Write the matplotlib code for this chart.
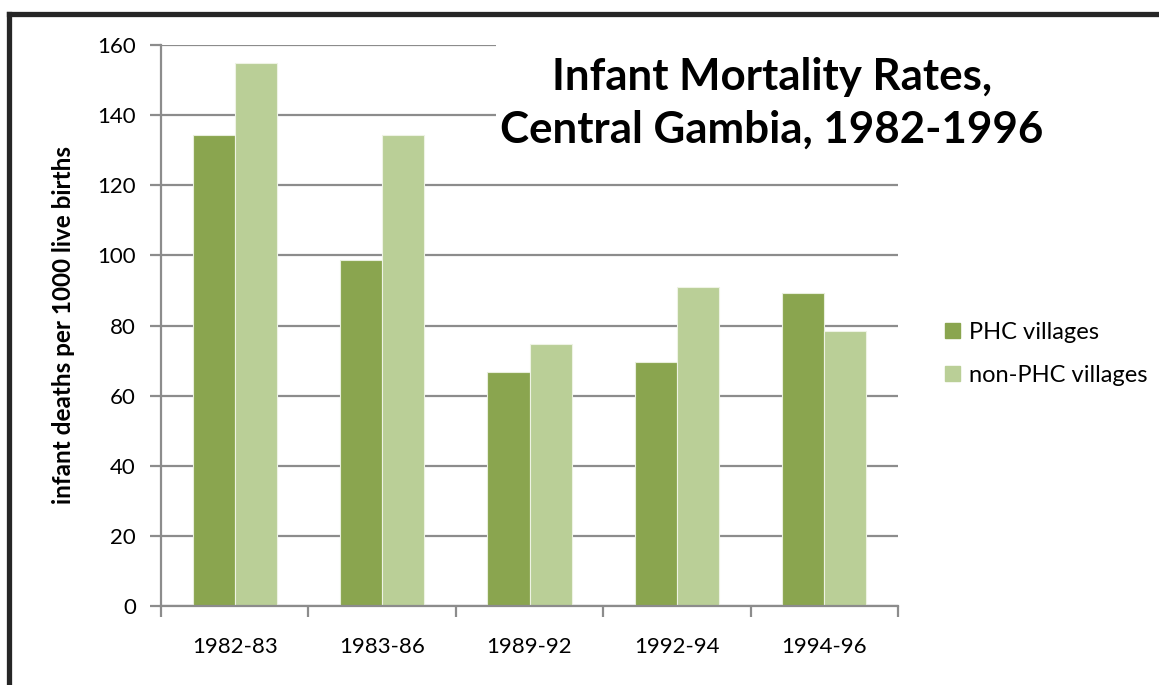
import numpy as np
import matplotlib
matplotlib.use("Agg")
import matplotlib.pyplot as plt
from matplotlib.patches import Rectangle
from matplotlib.lines import Line2D

periods = ["1982-83", "1983-86", "1989-92", "1992-94", "1994-96"]
phc = [134.3, 98.6, 66.8, 69.5, 89.4]
non_phc = [154.9, 134.3, 74.6, 91.1, 78.5]
series_names = ["PHC villages", "non-PHC villages"]

plt.rcParams['font.family'] = ['Lato', 'DejaVu Sans']

W, H = 1159, 685
fig = plt.figure(figsize=(W / 100, H / 100), dpi=100)
fig.patch.set_facecolor("white")

ax = fig.add_axes([161 / W, 1 - 606 / H, (898 - 161) / W, (606 - 45) / H])

grey = "#8c8c8c"
dark = "#8aa54f"
light = "#bacf97"

x = np.arange(len(periods))
bw = 0.285
ax.bar(x - bw / 2, phc, bw, color=dark, edgecolor="#e8eedc", linewidth=0.8,
       label=series_names[0], zorder=2)
ax.bar(x + bw / 2, non_phc, bw, color=light, edgecolor="#eef3e4", linewidth=0.8,
       label=series_names[1], zorder=2)

ax.set_xlim(-0.5, len(periods) - 0.5)
ax.set_ylim(0, 160)
ax.set_yticks(np.arange(0, 161, 20))
ax.yaxis.grid(True, color=grey, linewidth=1.6, zorder=0)
ax.set_axisbelow(True)

for s in ["top", "right"]:
    ax.spines[s].set_visible(False)
for s in ["left", "bottom"]:
    ax.spines[s].set_color(grey)
    ax.spines[s].set_linewidth(1.6)

ax.set_xticks(x)
ax.set_xticklabels(periods)
ax.set_xticks(np.arange(-0.5, len(periods)), minor=True)
ax.tick_params(axis="x", which="major", length=0, pad=22, labelsize=16)
ax.tick_params(axis="x", which="minor", length=8, width=1.6, color=grey)
ax.tick_params(axis="y", length=8, width=1.6, color=grey, labelsize=16, pad=10)

ax.set_ylabel("infant deaths per 1000 live births", fontsize=17.5,
              fontweight="bold", labelpad=16)

# white box behind the title covering the gridlines
fig.patches.append(Rectangle((496 / W, 1 - 168 / H), (1060 - 496) / W, (168 - 40) / H,
                             transform=fig.transFigure, facecolor="white",
                             edgecolor="none", zorder=2))
fig.text(772 / W, 1 - 103 / H, "Infant Mortality Rates,\nCentral Gambia, 1982-1996",
         ha="center", va="center", fontsize=31.6, fontweight="bold",
         linespacing=1.38, zorder=3)

handles = [Rectangle((0, 0), 1, 1, color=dark), Rectangle((0, 0), 1, 1, color=light)]
fig.legend(handles, series_names, loc="center left",
           bbox_to_anchor=(936 / W, 1 - 354 / H), frameon=False, fontsize=17,
           handlelength=0.6, handleheight=0.6, handletextpad=0.4,
           labelspacing=0.95, borderaxespad=0)

# dark frame around the chart
fig.add_artist(Line2D([9 / W, 1.0], [1 - 14 / H, 1 - 14 / H], color="#262626",
                      linewidth=3.8, transform=fig.transFigure, solid_capstyle="projecting"))
fig.add_artist(Line2D([9 / W, 9 / W], [1 - 14 / H, 0.0], color="#262626",
                      linewidth=3.8, transform=fig.transFigure, solid_capstyle="projecting"))

fig.savefig("out.png", dpi=100)
